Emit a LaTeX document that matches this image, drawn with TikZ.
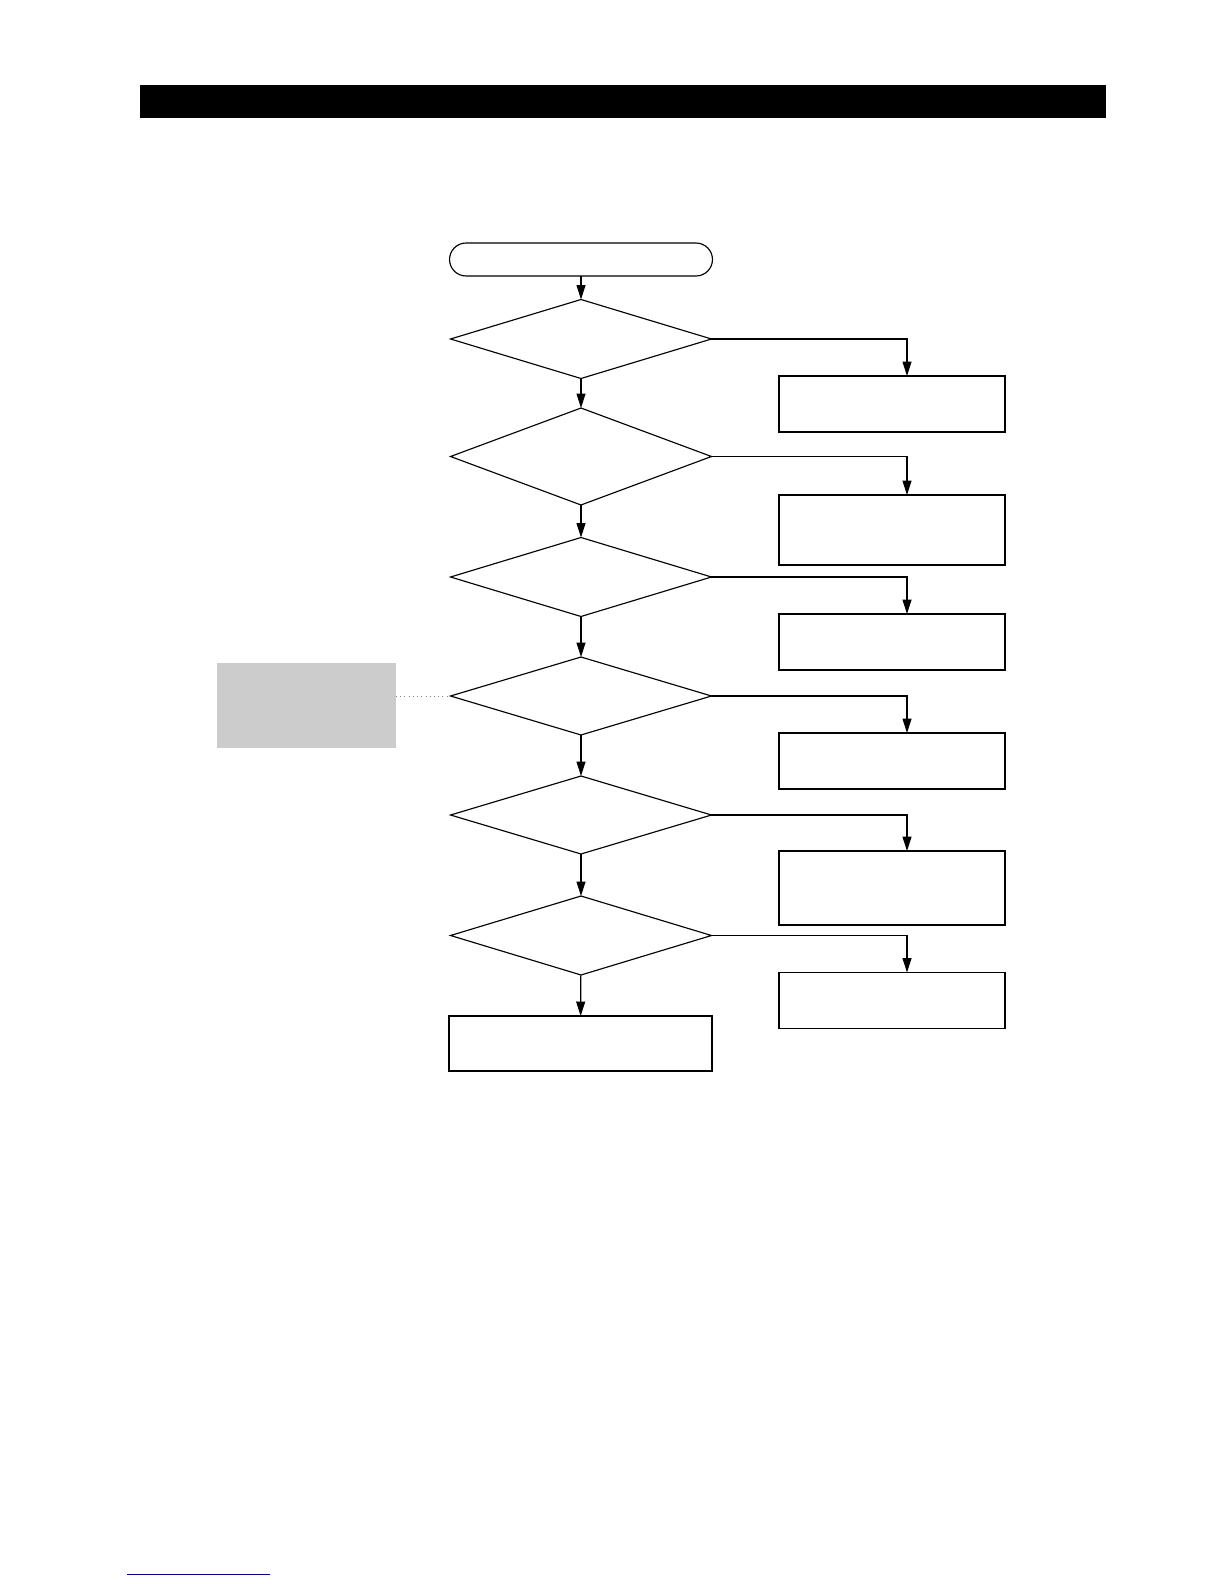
\documentclass[tikz,border=0pt]{standalone}
\usepackage{tikz}
\usetikzlibrary{arrows.meta,positioning,shapes.geometric,calc}

\begin{document}
\begin{tikzpicture}[x=0.02cm, y=-0.02cm, line width=0.65pt,
    every node/.style={inner sep=0pt, outer sep=0pt},
    terminal/.style={draw, rounded corners=0.33cm, minimum width=5.26cm, minimum height=0.66cm},
    decision/.style={draw, diamond, minimum width=5.22cm, minimum height=1.58cm},
    action/.style={draw, minimum width=4.52cm, minimum height=1.12cm},
    flow/.style={-{Triangle[length=2.9mm, width=1.8mm]}}]
      \useasboundingbox (0,0) rectangle (1224,1584);
      % header bar
      \fill (140,85) rectangle (1106,118);
      % main column
      \node[terminal] (start) at (581,259.5) {};
      \node[decision] (q1) at (581,339) {};
      \node[decision, minimum height=1.94cm] (q2) at (581,456.5) {};
      \node[decision] (q3) at (581,577) {};
      \node[decision, minimum height=1.56cm] (q4) at (581,696) {};
      \node[decision, minimum height=1.56cm] (q5) at (581,815) {};
      \node[decision] (q6) at (581,935.5) {};
      \node[draw, minimum width=5.26cm, minimum height=1.1cm] (stop) at (580.5,1043.5) {};
      % right column
      \node[action] (r1) at (892,404) {};
      \node[action, minimum height=1.4cm] (r2) at (892,530) {};
      \node[action] (r3) at (892,642) {};
      \node[action] (r4) at (892,761) {};
      \node[action, minimum height=1.48cm] (r5) at (892,888) {};
      \node[action] (r6) at (892,1000.5) {};
      % note
      \node[fill=black!20, minimum width=3.58cm, minimum height=1.7cm] (note) at (306.5,705.5) {};
      \draw[dotted, thin, black!50] (note.east |- q4.west) -- (q4.west);
      % arrows
      \draw[flow] (start) -- (q1);
      \draw[flow] (q1) -- (q2);
      \draw[flow] (q2) -- (q3);
      \draw[flow] (q3) -- (q4);
      \draw[flow] (q4) -- (q5);
      \draw[flow] (q5) -- (q6);
      \draw[flow] (q6) -- (stop);
      \foreach \i in {1,...,6}
        \draw[flow] (q\i.east) -| ([xshift=0.3cm]r\i.north);
      % link underline
      \draw[blue!55!black, thin] (127,1574) -- (270,1574);
    \end{tikzpicture}
\end{document}
